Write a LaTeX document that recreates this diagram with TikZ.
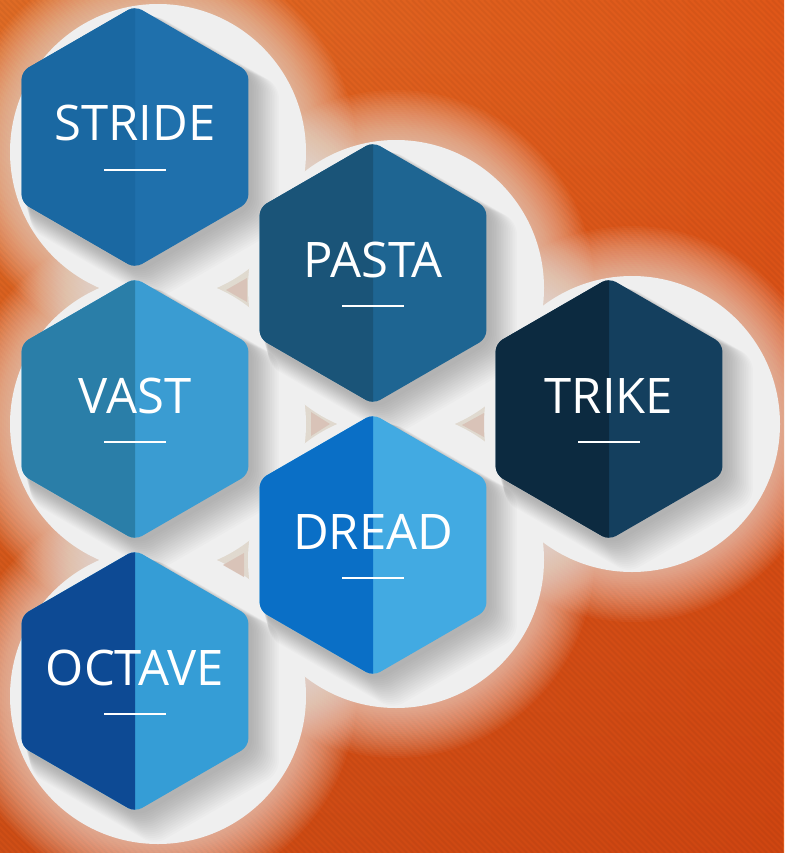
\documentclass[tikz,border=0pt]{standalone}
\usepackage{fontspec}
\setmainfont{Open Sans}
\usetikzlibrary{fadings}

% background
\definecolor{bgL}{HTML}{E06C26}
\definecolor{bgR}{HTML}{E0581A}
\definecolor{bgDark}{HTML}{C43A0C}
% circle plates and markers
\definecolor{plate}{HTML}{EFEFEF}
\definecolor{marker}{HTML}{D9C3B8}
% hexagon halves
\definecolor{strideL}{HTML}{1A68A2}
\definecolor{strideR}{HTML}{1F70AC}
\definecolor{pastaL}{HTML}{1A5478}
\definecolor{pastaR}{HTML}{1E6592}
\definecolor{vastL}{HTML}{2A7EA8}
\definecolor{vastR}{HTML}{3A9CD2}
\definecolor{trikeL}{HTML}{0C2A40}
\definecolor{trikeR}{HTML}{143F5E}
\definecolor{dreadL}{HTML}{0A6FC6}
\definecolor{dreadR}{HTML}{42AAE2}
\definecolor{octaveL}{HTML}{0D4A94}
\definecolor{octaveR}{HTML}{359DD6}

% pointy-top hexagon around the origin
\def\hexrel{(0,-131) -- (113.4,-65.5) -- (113.4,65.5) -- (0,131) -- (-113.4,65.5) -- (-113.4,-65.5) -- cycle}
\def\cells{stride/135/137/strideL/strideR/STRIDE,
           pasta/373/273/pastaL/pastaR/PASTA,
           vast/135/409/vastL/vastR/VAST,
           trike/609/409/trikeL/trikeR/TRIKE,
           dread/373/545/dreadL/dreadR/DREAD,
           octave/135/681/octaveL/octaveR/OCTAVE}

\tikzset{
  lbl/.style={anchor=base, text=white, inner sep=0pt,
              font=\fontsize{49}{58}\selectfont},
  uline/.style={white, line width=2.6pt},
  hexfill/.style={rounded corners=8pt},
  markertri/.style={fill=marker},
}

\begin{document}
\begin{tikzpicture}[x=1pt,y=-1pt]
\useasboundingbox (0,0) rectangle (784,853);

% orange textured backdrop
\shade[left color=bgL, right color=bgR] (0,0) rectangle (784,853);
\fill[bgDark, path fading=north, fill opacity=0.6] (0,0) rectangle (784,853);
\begin{scope}
  \clip (0,0) rectangle (784,853);
  \foreach \i in {-860,-854,...,790}
    \draw[black, line width=2pt, draw opacity=0.045] (\i,0) -- (\i+853,853);
\end{scope}

% soft white halo around the plates
\foreach \n/\cx/\cy/\L/\R/\t in \cells {
  \foreach \k in {2,4,...,50}
    \fill[white, fill opacity=0.032] (\cx+23,\cy+15) circle[radius=148pt+\k pt];
}

% circular plates
\foreach \n/\cx/\cy/\L/\R/\t in \cells
  \fill[plate] (\cx+23,\cy+15) circle[radius=148pt];

% small direction markers
\fill[markertri] (226,290) -- (247,278) -- (247,302) -- cycle;
\fill[markertri] (330,424) -- (311,412) -- (311,436) -- cycle;
\fill[markertri] (462,425) -- (484,413) -- (484,437) -- cycle;
\fill[markertri] (223,565) -- (244,553) -- (244,577) -- cycle;

% drop shadows of the hexagons, cast toward the lower right
\foreach \n/\cx/\cy/\L/\R/\t in \cells {
  \foreach \k in {1,...,16}
    \fill[black, fill opacity=0.016, rounded corners=12pt,
          shift={(\cx+2+\k*1.1,\cy+3+\k*1.1)}, scale={1+\k*0.006}] \hexrel;
}

% two-tone hexagons with titles
\foreach \n/\cx/\cy/\L/\R/\t in \cells {
  \begin{scope}[shift={(\cx,\cy)}]
    \fill[\R, hexfill] \hexrel;
    \begin{scope}
      \clip (-140,-140) rectangle (0,140);
      \fill[\L, hexfill] \hexrel;
    \end{scope}
  \end{scope}
  \node[lbl] (\n) at (\cx,\cy+4) {\t};
  \draw[uline] (\cx-31,\cy+33) -- (\cx+31,\cy+33);
}
\end{tikzpicture}
\end{document}
